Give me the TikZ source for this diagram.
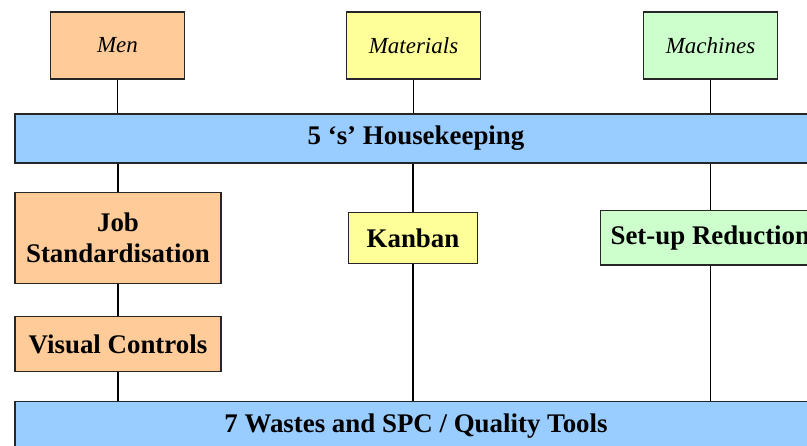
\documentclass[tikz,border=0pt]{standalone}
\usepackage{fontspec}
\setmainfont{Liberation Serif}
\definecolor{menc}{HTML}{FFCC99}
\definecolor{matc}{HTML}{FFFF99}
\definecolor{macc}{HTML}{CCFFCC}
\definecolor{barc}{HTML}{99CCFF}
\tikzset{
  box/.style={draw=black!85, line width=1.3pt, rectangle, inner sep=0pt, align=center},
  top/.style={box, font=\fontsize{23}{27}\selectfont\itshape, minimum width=134pt, minimum height=67pt},
  bold/.style={box, font=\fontsize{26.9}{31}\selectfont\bfseries},
  link/.style={draw=black, line width=1.5pt}
}
\begin{document}
\begin{tikzpicture}[x=1pt,y=-1pt]
\useasboundingbox (0,0) rectangle (807,446);
\clip (0,0) rectangle (807,446);
\node[top, fill=menc] (men) at (117.5,45.5) {Men};
\node[top, fill=matc] (mat) at (413.5,45.5) {Materials};
\node[top, fill=macc] (mac) at (710.5,45.5) {Machines};
\node[bold, fill=barc, minimum width=802pt, minimum height=49pt] (s5) at (416,138.5) {5 ‘s’ Housekeeping};
\node[bold, fill=menc, minimum width=206pt, minimum height=91pt] (job) at (118,238.2) {Job\\Standardisation};
\node[bold, fill=menc, minimum width=206pt, minimum height=55pt] (vis) at (118,344.2) {Visual Controls};
\node[bold, fill=matc, minimum width=129.3pt, minimum height=51pt] (kan) at (413,238.2) {Kanban};
\node[bold, fill=macc, minimum width=219.3pt, minimum height=54.3pt] (set) at (710.35,237.85) {Set-up Reduction};
\node[bold, fill=barc, minimum width=802pt, minimum height=49.3pt] (bot) at (416,426.35) {7 Wastes and SPC / Quality Tools};
\draw[link] (men.south) -- (men.south |- s5.north);
\draw[link] (mat.south) -- (mat.south |- s5.north);
\draw[link] (mac.south) -- (mac.south |- s5.north);
\draw[link] (s5.south -| job.north) -- (job.north);
\draw[link] (job.south) -- (vis.north);
\draw[link] (vis.south) -- (vis.south |- bot.north);
\draw[link] (s5.south -| kan.north) -- (kan.north);
\draw[link] (kan.south) -- (kan.south |- bot.north);
\draw[link] (s5.south -| mac.south) -- (mac.south |- set.north);
\draw[link] (mac.south |- set.south) -- (mac.south |- bot.north);
\end{tikzpicture}
\end{document}
